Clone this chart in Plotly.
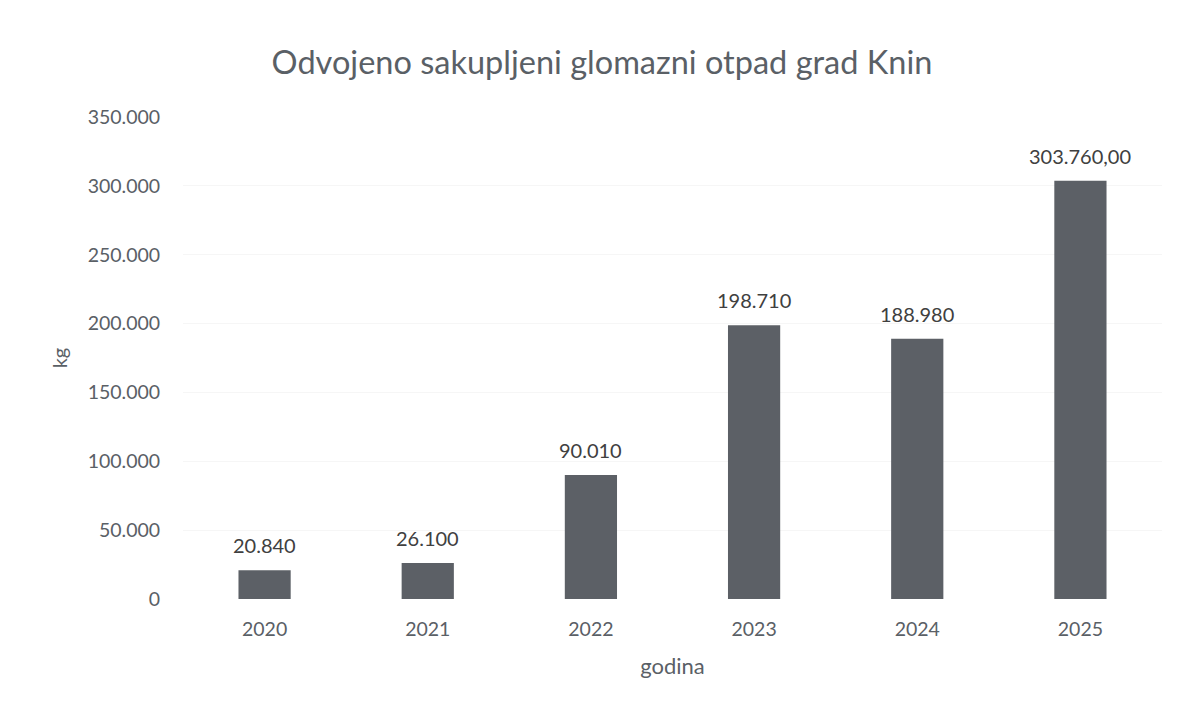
import plotly.graph_objects as go

years = ["2020", "2021", "2022", "2023", "2024", "2025"]
values = [20840, 26100, 90010, 198710, 188980, 303760]
labels = ["20.840", "26.100", "90.010", "198.710", "188.980", "303.760,00"]
y_ticks = [0, 50000, 100000, 150000, 200000, 250000, 300000, 350000]

font = "Lato, 'Open Sans', sans-serif"
txt = "#5a6066"

fig = go.Figure(go.Bar(
    x=years, y=values,
    marker=dict(color="#5c6066", line=dict(width=0)),
))

for i, (v, lab) in enumerate(zip(values, labels)):
    fig.add_annotation(x=i, y=v, xref="x", yref="y", text=lab, showarrow=False,
                       yanchor="bottom", yshift=11,
                       font=dict(size=20, color="#404040", family=font))

fig.update_layout(
    width=1188, height=713,
    paper_bgcolor="white", plot_bgcolor="white",
    separators=",.",
    margin=dict(l=175, r=34, t=109, b=122),
    bargap=0.68,
    title=dict(text="Odvojeno sakupljeni glomazni otpad grad Knin",
               x=0.5, xanchor="center", y=0.924, yanchor="middle",
               font=dict(size=32.5, color=txt, family=font)),
    font=dict(family=font, color=txt),
    showlegend=False,
)
fig.update_xaxes(
    type="category", range=[-0.5, 5.5],
    showgrid=False, showline=False, zeroline=False,
    ticks="outside", ticklen=13, tickcolor="rgba(0,0,0,0)",
    tickfont=dict(size=19.5, color=txt),
    title=dict(text="godina", font=dict(size=22, color=txt), standoff=19),
)
fig.update_yaxes(
    range=[0, 350000], tickvals=y_ticks, tickformat=",d",
    showgrid=True, gridcolor="#f6f6f6", zeroline=False, showline=False,
    ticks="outside", ticklen=18, tickcolor="rgba(0,0,0,0)",
    tickfont=dict(size=19.5, color=txt),
    title=dict(text="kg", font=dict(size=20, color=txt), standoff=14),
)

fig.write_html("out.html")
